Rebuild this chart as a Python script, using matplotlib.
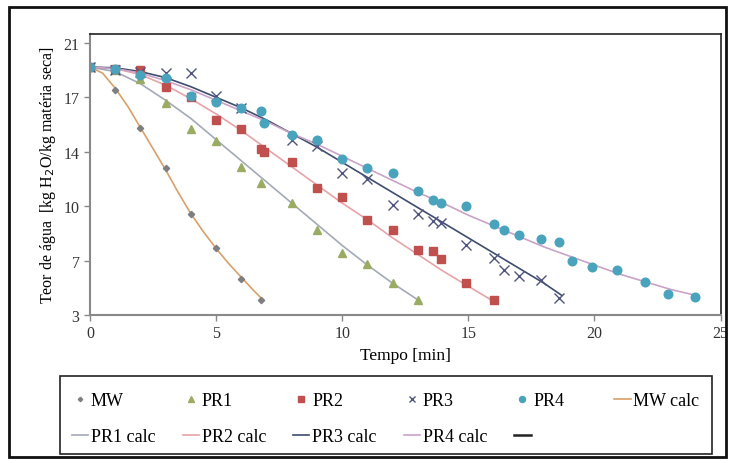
import matplotlib
matplotlib.use("Agg")
import matplotlib.pyplot as plt
from matplotlib.patches import Rectangle
from matplotlib.lines import Line2D

plt.rcParams['font.family'] = ['Liberation Serif', 'DejaVu Serif']

# --- experimental data ---
t_mw = [0, 1, 2, 3, 4, 5, 6, 6.8]
v_mw = [19.4, 17.9, 15.4, 12.7, 9.7, 7.4, 5.4, 4.0]

t_pr1 = [0, 1, 2, 3, 4, 5, 6, 6.8, 8, 9, 10, 11, 12, 13]
v_pr1 = [19.4, 19.2, 18.6, 17.0, 15.3, 14.5, 12.8, 11.7, 10.4, 8.6, 7.1, 6.4, 5.1, 4.0]

t_pr2 = [0, 1, 2, 3, 4, 5, 6, 6.8, 6.9, 8, 9, 10, 11, 12, 13, 13.6, 13.9, 14.9, 16]
v_pr2 = [19.4, 19.3, 19.2, 18.1, 17.4, 15.9, 15.3, 14.0, 13.8, 13.1, 11.4, 10.8,
         9.3, 8.6, 7.3, 7.2, 6.7, 5.1, 4.0]

t_pr3 = [0, 1, 2, 3, 4, 5, 6, 8, 9, 10, 11, 12, 13, 13.6, 13.9, 14.9, 16, 16.4,
         17, 17.9, 18.6]
v_pr3 = [19.4, 19.2, 19.1, 19.0, 19.0, 17.5, 16.7, 14.6, 14.2, 12.4, 12.0, 10.3,
         9.7, 9.2, 9.1, 7.6, 6.8, 6.0, 5.6, 5.3, 4.1]

t_pr4 = [0, 1, 2, 3, 4, 5, 6, 6.8, 6.9, 8, 9, 10, 11, 12, 13, 13.6, 13.9, 14.9,
         16, 16.4, 17, 17.9, 18.6, 19.1, 19.9, 20.9, 22, 22.9, 24]
v_pr4 = [19.4, 19.3, 18.9, 18.7, 17.5, 17.1, 16.7, 16.5, 15.7, 14.9, 14.6, 13.3,
         12.7, 12.4, 11.2, 10.6, 10.4, 10.2, 9.0, 8.6, 8.3, 8.0, 7.8, 6.6, 6.2,
         6.0, 5.2, 4.4, 4.2]

# --- calculated curves ---
tc_mw = [0, 0.5, 1, 1.5, 2, 2.5, 3, 3.5, 4, 4.5, 5, 5.5, 6, 6.5, 6.8]
vc_mw = [19.4, 19.0, 18.0, 16.8, 15.4, 14.0, 12.6, 11.1, 9.7, 8.5, 7.4, 6.4, 5.5, 4.6, 4.1]

tc_pr1 = [0, 1, 2, 3, 4, 5, 6, 7, 8, 9, 10, 11, 12, 13]
vc_pr1 = [19.4, 19.1, 18.3, 17.2, 16.0, 14.6, 13.2, 11.8, 10.4, 9.0, 7.6, 6.3, 5.1, 4.0]

tc_pr2 = [0, 1, 2, 3, 4, 5, 6, 7, 8, 9, 10, 11, 12, 13, 14, 15, 16]
vc_pr2 = [19.4, 19.3, 18.9, 18.2, 17.3, 16.3, 15.2, 14.0, 12.8, 11.6, 10.4, 9.3,
          8.1, 7.0, 5.9, 4.9, 3.9]

tc_pr3 = [0, 1, 2, 3, 4, 5, 6, 7, 8, 9, 10, 11, 12, 13, 14, 15, 16, 17, 18, 18.7]
vc_pr3 = [19.4, 19.35, 19.1, 18.7, 18.1, 17.4, 16.7, 15.9, 15.0, 14.1, 13.1, 12.1,
          11.1, 10.1, 9.1, 8.1, 7.1, 6.1, 5.1, 4.3]

tc_pr4 = [0, 1, 2, 3, 4, 5, 6, 7, 8, 9, 10, 11, 12, 13, 14, 15, 16, 17, 18, 19,
          20, 21, 22, 23, 24]
vc_pr4 = [19.4, 19.3, 19.0, 18.5, 17.9, 17.2, 16.5, 15.8, 15.0, 14.3, 13.5, 12.7,
          11.9, 11.1, 10.4, 9.6, 8.9, 8.2, 7.5, 6.9, 6.3, 5.7, 5.2, 4.7, 4.3]

y_ticks = [3, 6.6, 10.2, 13.8, 17.4, 21]
y_tick_labels = ["3", "7", "10", "14", "17", "21"]
x_ticks = [0, 5, 10, 15, 20, 25]

fig = plt.figure(figsize=(7.35, 4.64), dpi=100)
ax = fig.add_axes([0.1224, 0.319, 0.858, 0.606])

lc_mw = ax.plot(tc_mw, vc_mw, color='#d9a06a', lw=1.2, label='MW calc')[0]
lc_pr1 = ax.plot(tc_pr1, vc_pr1, color='#a3a9b8', lw=1.2, label='PR1 calc')[0]
lc_pr2 = ax.plot(tc_pr2, vc_pr2, color='#e6a3a8', lw=1.2, label='PR2 calc')[0]
lc_pr3 = ax.plot(tc_pr3, vc_pr3, color='#3e4c6e', lw=1.2, label='PR3 calc')[0]
lc_pr4 = ax.plot(tc_pr4, vc_pr4, color='#c9a3c8', lw=1.2, label='PR4 calc')[0]

m_mw = ax.plot(t_mw, v_mw, 'D', color='#7f7f7f', ms=3.2, ls='none', label='MW')[0]
m_pr1 = ax.plot(t_pr1, v_pr1, '^', color='#9aab62', ms=6.2, ls='none', label='PR1')[0]
m_pr2 = ax.plot(t_pr2, v_pr2, 's', color='#c0504d', ms=6, ls='none', label='PR2')[0]
m_pr3 = ax.plot(t_pr3, v_pr3, 'x', color='#4f5480', ms=6.5, mew=1.0, ls='none', label='PR3')[0]
m_pr4 = ax.plot(t_pr4, v_pr4, 'o', color='#4aa3bd', ms=6.2, ls='none', label='PR4')[0]

blank = Line2D([], [], color='#222222', lw=1.8)

ax.set_xlim(0, 25)
ax.set_ylim(3, 21.6)
ax.set_xticks(x_ticks)
ax.set_yticks(y_ticks)
ax.set_yticklabels(y_tick_labels)
ax.tick_params(labelsize=11.5, colors='#333333', direction='out', length=4,
               width=1, color='#888888')
for s in ['left', 'bottom']:
    ax.spines[s].set_color('#888888')
    ax.spines[s].set_linewidth(1.5)
for s in ['top', 'right']:
    ax.spines[s].set_color('#222222')
    ax.spines[s].set_linewidth(1.2)

ax.set_xlabel('Tempo [min]', fontsize=12.5, labelpad=4)
ax.set_ylabel('Teor de água  [kg H$_2$O/kg matéria seca]', fontsize=11.5, labelpad=4)

handles = [m_mw, lc_pr1, m_pr1, lc_pr2, m_pr2, lc_pr3, m_pr3, lc_pr4, m_pr4, blank, lc_mw]
labels = ['MW', 'PR1 calc', 'PR1', 'PR2 calc', 'PR2', 'PR3 calc', 'PR3', 'PR4 calc',
          'PR4', '            ', 'MW calc']
leg = fig.legend(handles, labels, loc='upper left', ncol=6,
                 bbox_to_anchor=(0.098, 0.152), fontsize=13,
                 frameon=False, handlelength=0.9, handletextpad=0.15,
                 markerscale=0.7, borderaxespad=0, borderpad=0,
                 labelspacing=1.05, columnspacing=1.5)

# legend frame
fig.patches.append(Rectangle((0.0816, 0.0194), 0.887, 0.168, transform=fig.transFigure,
                             fill=False, edgecolor='#222222', lw=1.2))
# outer border
fig.patches.append(Rectangle((0.012, 0.012), 0.976, 0.97, transform=fig.transFigure,
                             fill=False, edgecolor='#111111', lw=2.0))

fig.savefig('out.png', dpi=100)
